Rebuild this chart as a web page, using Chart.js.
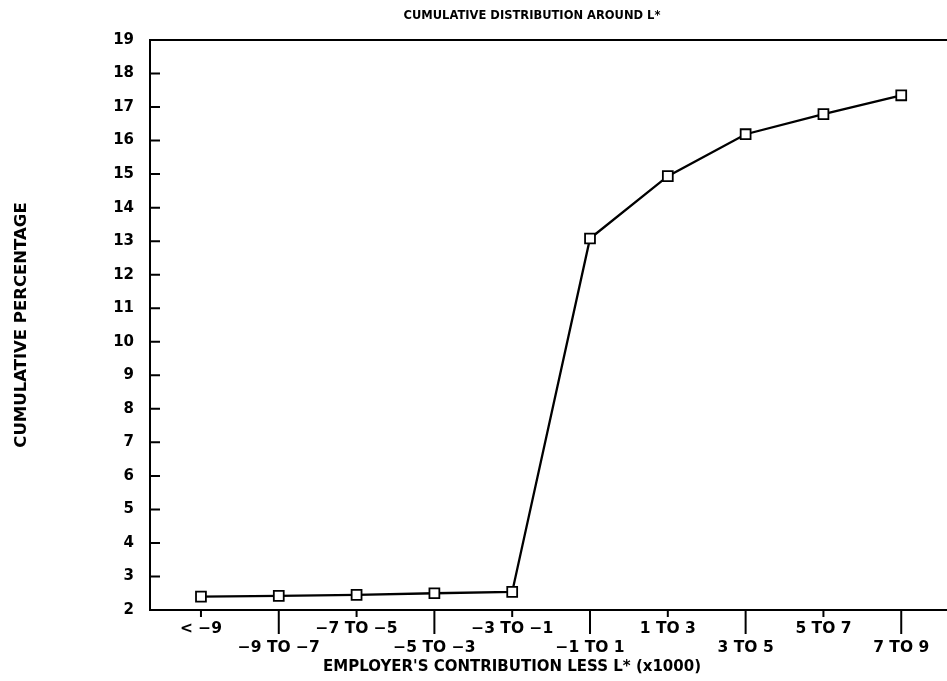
<!DOCTYPE html>
<html>
<head>
<meta charset="utf-8">
<script src="https://cdn.jsdelivr.net/npm/chart.js@4.4.1/dist/chart.umd.min.js"></script>
<style>
  html, body { margin: 0; padding: 0; background: #fff; overflow: hidden; }
  #wrap { width: 947px; height: 681px; }
</style>
</head>
<body>
<div id="wrap"><canvas id="cumChart"></canvas></div>
<script>
// categories along the x axis (employer's contribution less L*, x1000)
const categories = ['< −9', '−9 TO −7', '−7 TO −5', '−5 TO −3', '−3 TO −1',
                    '−1 TO 1', '1 TO 3', '3 TO 5', '5 TO 7', '7 TO 9'];
// cumulative percentage
const cumulativePct = [2.40, 2.42, 2.45, 2.50, 2.54, 13.08, 14.94, 16.19, 16.79, 17.35];
// y tick labels
const yTickValues = [2, 3, 4, 5, 6, 7, 8, 9, 10, 11, 12, 13, 14, 15, 16, 17, 18, 19];

const chartTitle = 'CUMULATIVE DISTRIBUTION AROUND L*';
const xTitle = "EMPLOYER'S CONTRIBUTION LESS L* (x1000)";
const yTitle = 'CUMULATIVE PERCENTAGE';

const FONT = '"DejaVu Sans", sans-serif';

// ticks, frame lines running to the right edge, and titles
const framePlugin = {
  id: 'frame',
  afterDraw(chart) {
    const { ctx, chartArea: a, scales } = chart;
    const x = scales.x, y = scales.y;
    ctx.save();
    ctx.strokeStyle = '#000';
    ctx.lineWidth = 2;
    ctx.beginPath();
    ctx.moveTo(a.left, a.top);
    ctx.lineTo(chart.width, a.top);
    ctx.moveTo(a.left, a.bottom);
    ctx.lineTo(chart.width, a.bottom);
    // y ticks point inward
    yTickValues.forEach(v => {
      const py = y.getPixelForValue(v);
      ctx.moveTo(a.left, py);
      ctx.lineTo(a.left + 10, py);
    });
    // x ticks alternate short / long
    categories.forEach((c, i) => {
      const px = x.getPixelForValue(i);
      ctx.moveTo(px, a.bottom);
      ctx.lineTo(px, a.bottom + (i % 2 ? 24 : 7));
    });
    ctx.stroke();

    ctx.fillStyle = '#000';
    ctx.textAlign = 'center';
    ctx.textBaseline = 'middle';
    ctx.font = 'bold 11.5px ' + FONT;
    ctx.fillText(chartTitle, 532, 16);
    ctx.font = 'bold 15px ' + FONT;
    ctx.fillText(xTitle, 512, 667);
    ctx.translate(22, 325);
    ctx.rotate(-Math.PI / 2);
    ctx.font = 'bold 16.5px ' + FONT;
    ctx.fillText(yTitle, 0, 0);
    ctx.restore();
  }
};

new Chart(document.getElementById('cumChart'), {
  type: 'line',
  data: {
    datasets: [{
      label: 'Cumulative percentage',
      data: cumulativePct.map((v, i) => ({ x: i, y: v })),
      borderColor: '#000',
      borderWidth: 2.3,
      pointStyle: 'rect',
      pointRadius: 7,
      pointBorderWidth: 1.8,
      pointBackgroundColor: '#fff',
      pointBorderColor: '#000',
      tension: 0
    }]
  },
  options: {
    responsive: true,
    maintainAspectRatio: false,
    animation: false,
    layout: { padding: { top: 40, right: 0, bottom: 0, left: 0 } },
    plugins: {
      legend: { display: false },
      tooltip: { enabled: false },
      title: { display: false }
    },
    scales: {
      x: {
        type: 'linear',
        min: -0.655,
        max: 9.475,
        afterBuildTicks: scale => {
          scale.ticks = categories.map((c, i) => ({ value: i }));
        },
        afterFit: scale => {
          scale.height = 71;
          scale.paddingLeft = 0;
          scale.paddingRight = 0;
        },
        grid: { display: false, drawTicks: false },
        border: { display: true, color: '#000', width: 2 },
        ticks: {
          autoSkip: false,
          maxRotation: 0,
          padding: 9,
          color: '#000',
          font: { family: FONT, size: 15.5, weight: 'bold', lineHeight: '19px' },
          callback: value => {
            const label = categories[value];
            return value % 2 ? ['', label] : label;
          }
        }
      },
      y: {
        min: 2,
        max: 19,
        afterBuildTicks: scale => {
          scale.ticks = yTickValues.map(v => ({ value: v }));
        },
        afterFit: scale => { scale.width = 150; },
        grid: { display: false, drawTicks: false },
        border: { display: true, color: '#000', width: 2 },
        ticks: {
          padding: 16,
          color: '#000',
          font: { family: FONT, size: 15, weight: 'bold' }
        }
      }
    }
  },
  plugins: [framePlugin]
});
</script>
</body>
</html>
